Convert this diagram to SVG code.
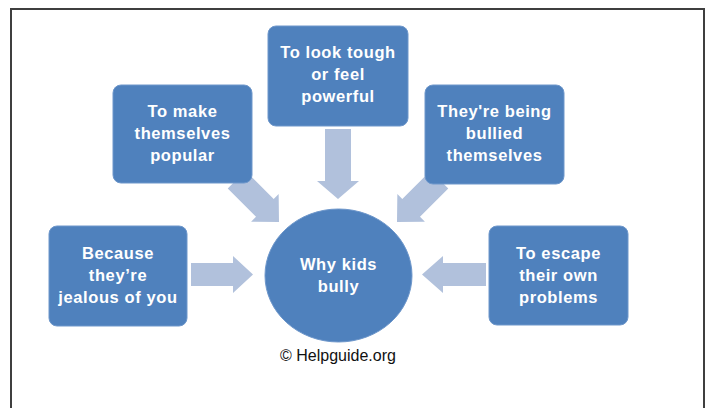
<svg xmlns="http://www.w3.org/2000/svg" width="711" height="408" viewBox="0 0 711 408">
<style>
.box{fill:#4F81BD;stroke:#6E97CB;stroke-width:1}
.arr{fill:#B1C1DC}
.lbl{font-family:"Liberation Sans",Arial,sans-serif;font-weight:bold;font-size:16.5px;letter-spacing:0.6px;fill:#FFFFFF;text-anchor:middle}
.credit{font-family:"Liberation Sans",Arial,sans-serif;font-size:16px;fill:#111111;text-anchor:middle}
</style>
<rect x="0" y="0" width="711" height="408" fill="#FFFFFF"/>
<path d="M11,408 V9 H704 V408" fill="none" stroke="#3F3F3F" stroke-width="2"/>
<g id="connectors">
<path class="arr" transform="translate(338,199) rotate(90)" d="M0,0 L-18,-21 L-18,-13 L-70,-13 L-70,13 L-18,13 L-18,21 Z"/>
<path class="arr" transform="translate(279,222) rotate(45)" d="M0,0 L-20,-19.5 L-20,-12.5 L-60,-12.5 L-60,12.5 L-20,12.5 L-20,19.5 Z"/>
<path class="arr" transform="translate(397,222) rotate(135)" d="M0,0 L-20,-19.5 L-20,-12.5 L-60,-12.5 L-60,12.5 L-20,12.5 L-20,19.5 Z"/>
<path class="arr" transform="translate(253,274.5)" d="M0,0 L-20,-18.5 L-20,-11.5 L-62,-11.5 L-62,11.5 L-20,11.5 L-20,18.5 Z"/>
<path class="arr" transform="translate(422,274.5) rotate(180)" d="M0,0 L-21,-18.5 L-21,-11.5 L-64,-11.5 L-64,11.5 L-21,11.5 L-21,18.5 Z"/>
</g>
<g id="node-top">
<rect class="box" x="268" y="26" width="140" height="100" rx="8"/>
<text class="lbl" x="338" y="58">To look tough</text>
<text class="lbl" x="338" y="80">or feel</text>
<text class="lbl" x="338" y="102">powerful</text>
</g>
<g id="node-topleft">
<rect class="box" x="113" y="85" width="139" height="98" rx="8"/>
<text class="lbl" x="182.5" y="117">To make</text>
<text class="lbl" x="182.5" y="139">themselves</text>
<text class="lbl" x="182.5" y="161">popular</text>
</g>
<g id="node-topright">
<rect class="box" x="425" y="85" width="139" height="99" rx="8"/>
<text class="lbl" x="494.5" y="117">They're being</text>
<text class="lbl" x="494.5" y="139">bullied</text>
<text class="lbl" x="494.5" y="161">themselves</text>
</g>
<g id="node-left">
<rect class="box" x="49" y="226" width="138" height="100" rx="8"/>
<text class="lbl" x="118" y="259">Because</text>
<text class="lbl" x="118" y="281">they’re</text>
<text class="lbl" x="118" y="303">jealous of you</text>
</g>
<g id="node-right">
<rect class="box" x="489" y="226" width="139" height="99" rx="8"/>
<text class="lbl" x="558.5" y="259">To escape</text>
<text class="lbl" x="558.5" y="281">their own</text>
<text class="lbl" x="558.5" y="303">problems</text>
</g>
<g id="node-center">
<ellipse class="box" cx="338.5" cy="275.5" rx="73.5" ry="66.5"/>
<text class="lbl" x="338.5" y="270">Why kids</text>
<text class="lbl" x="338.5" y="292">bully</text>
</g>
<text class="credit" x="338" y="361">© Helpguide.org</text>
</svg>
